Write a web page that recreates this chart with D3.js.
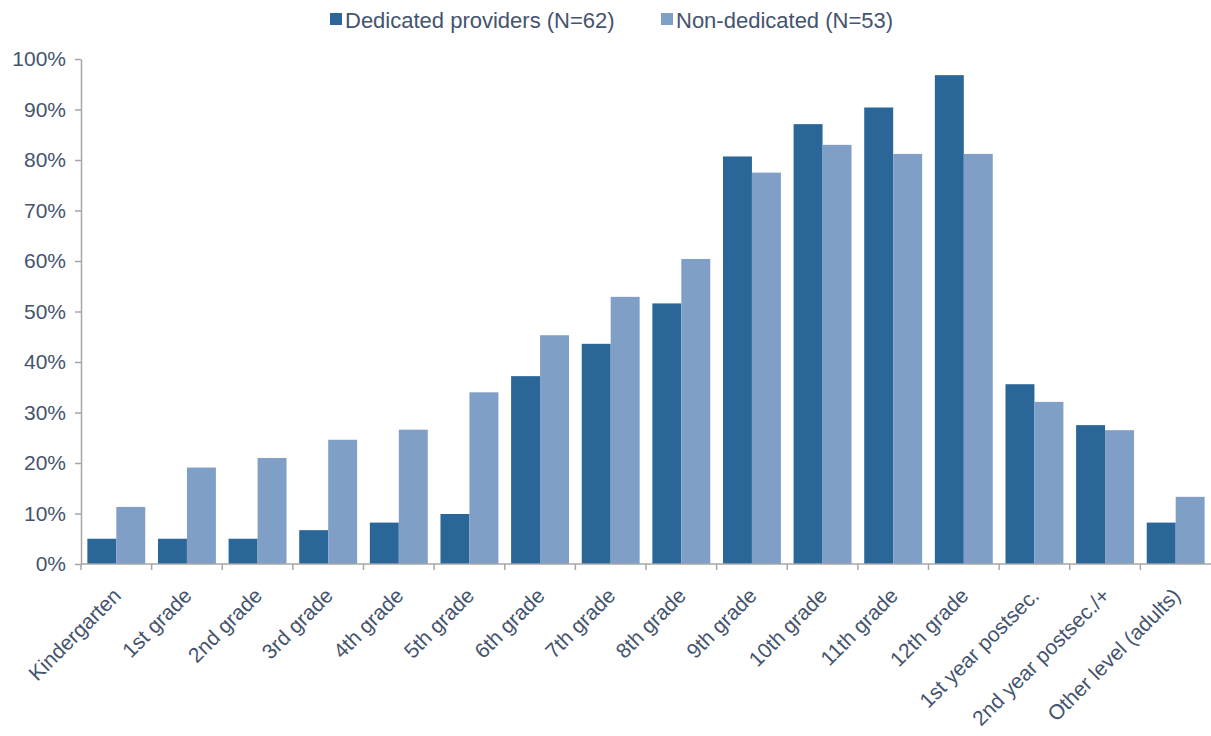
<!DOCTYPE html>
<html>
<head>
<meta charset="utf-8">
<script src="https://cdn.jsdelivr.net/npm/d3@7"></script>
<style>
  html, body { margin: 0; padding: 0; background: #ffffff; }
  svg { display: block; font-family: "Liberation Sans", Arial, sans-serif; }
</style>
</head>
<body>
<svg id="chart" width="1211" height="736"></svg>
<script>
// Grade levels served
const categories = [
  "Kindergarten", "1st grade", "2nd grade", "3rd grade", "4th grade", "5th grade",
  "6th grade", "7th grade", "8th grade", "9th grade", "10th grade", "11th grade",
  "12th grade", "1st year postsec.", "2nd year postsec./+", "Other level (adults)"
];
const seriesNames = ["Dedicated providers (N=62)", "Non-dedicated (N=53)"];
const dedicated = [5, 5, 5, 6.7, 8.2, 9.9, 37.2, 43.6, 51.6, 80.7, 87.1, 90.4, 96.8, 35.6, 27.5, 8.2];
const nonDedicated = [11.3, 19.1, 21, 24.6, 26.6, 34, 45.3, 52.9, 60.4, 77.5, 83, 81.2, 81.2, 32.1, 26.5, 13.3];
const yTicks = [0, 10, 20, 30, 40, 50, 60, 70, 80, 90, 100];

const colors = ["#2b6699", "#7f9fc6"];
const textColor = "#44546e";
const axisColor = "#a6a6a6";

const svg = d3.select("#chart");
const margin = { left: 81, right: 0, top: 59, bottom: 172 };
const width = 1211, height = 736;
const plotBottom = height - margin.bottom;

const x0 = d3.scaleBand()
  .domain(categories)
  .range([margin.left, width - margin.right])
  .paddingInner(0.18)
  .paddingOuter(0.09);

const x1 = d3.scaleBand()
  .domain([0, 1])
  .range([0, x0.bandwidth()]);

const y = d3.scaleLinear()
  .domain([0, 100])
  .range([plotBottom, margin.top]);

// Bars
const rows = categories.map((c, i) => ({ cat: c, values: [dedicated[i], nonDedicated[i]] }));
const groups = svg.append("g").selectAll("g")
  .data(rows)
  .join("g")
  .attr("transform", d => `translate(${x0(d.cat)},0)`);

groups.selectAll("rect")
  .data(d => d.values.map((v, k) => ({ v, k })))
  .join("rect")
  .attr("x", d => x1(d.k))
  .attr("y", d => y(d.v))
  .attr("width", x1.bandwidth())
  .attr("height", d => y(0) - y(d.v))
  .attr("fill", d => colors[d.k]);

// Y axis
const yAxis = svg.append("g")
  .attr("transform", `translate(${margin.left},0)`)
  .call(d3.axisLeft(y).tickValues(yTicks).tickFormat(d => d + "%").tickSize(6).tickSizeOuter(0));
yAxis.select(".domain").attr("stroke", axisColor).attr("stroke-width", 1.5);
yAxis.selectAll(".tick line").attr("stroke", axisColor).attr("stroke-width", 1.5);
yAxis.selectAll(".tick text")
  .attr("x", -15)
  .attr("fill", textColor)
  .style("font-size", "21px")
  .style("font-family", "'Liberation Sans', Arial, sans-serif");

// X axis baseline and category boundary ticks
const step = x0.step();
const boundaries = categories.map(c => x0(c) - step * x0.paddingInner() / 2);
const xAxis = svg.append("g");
xAxis.append("line")
  .attr("x1", margin.left).attr("x2", width)
  .attr("y1", y(0)).attr("y2", y(0))
  .attr("stroke", axisColor).attr("stroke-width", 1.5);
xAxis.selectAll("line.bt")
  .data(boundaries)
  .join("line")
  .attr("class", "bt")
  .attr("x1", d => d).attr("x2", d => d)
  .attr("y1", y(0)).attr("y2", y(0) + 6)
  .attr("stroke", axisColor).attr("stroke-width", 1.5);

// Rotated category labels
xAxis.selectAll("text")
  .data(categories)
  .join("text")
  .attr("transform", d => `translate(${x0(d) + x0.bandwidth() / 2 + 6},${y(0) + 33}) rotate(-45)`)
  .attr("text-anchor", "end")
  .attr("fill", textColor)
  .style("font-size", "21px")
  .text(d => d);

// Legend
const legendItems = [
  { name: seriesNames[0], color: colors[0], x: 330 },
  { name: seriesNames[1], color: colors[1], x: 661 }
];
const legend = svg.append("g");
legendItems.forEach(item => {
  legend.append("rect")
    .attr("x", item.x).attr("y", 13)
    .attr("width", 12).attr("height", 12)
    .attr("fill", item.color);
  legend.append("text")
    .attr("x", item.x + 15).attr("y", 28)
    .attr("fill", textColor)
    .style("font-size", "22px")
    .text(item.name);
});
</script>
</body>
</html>
